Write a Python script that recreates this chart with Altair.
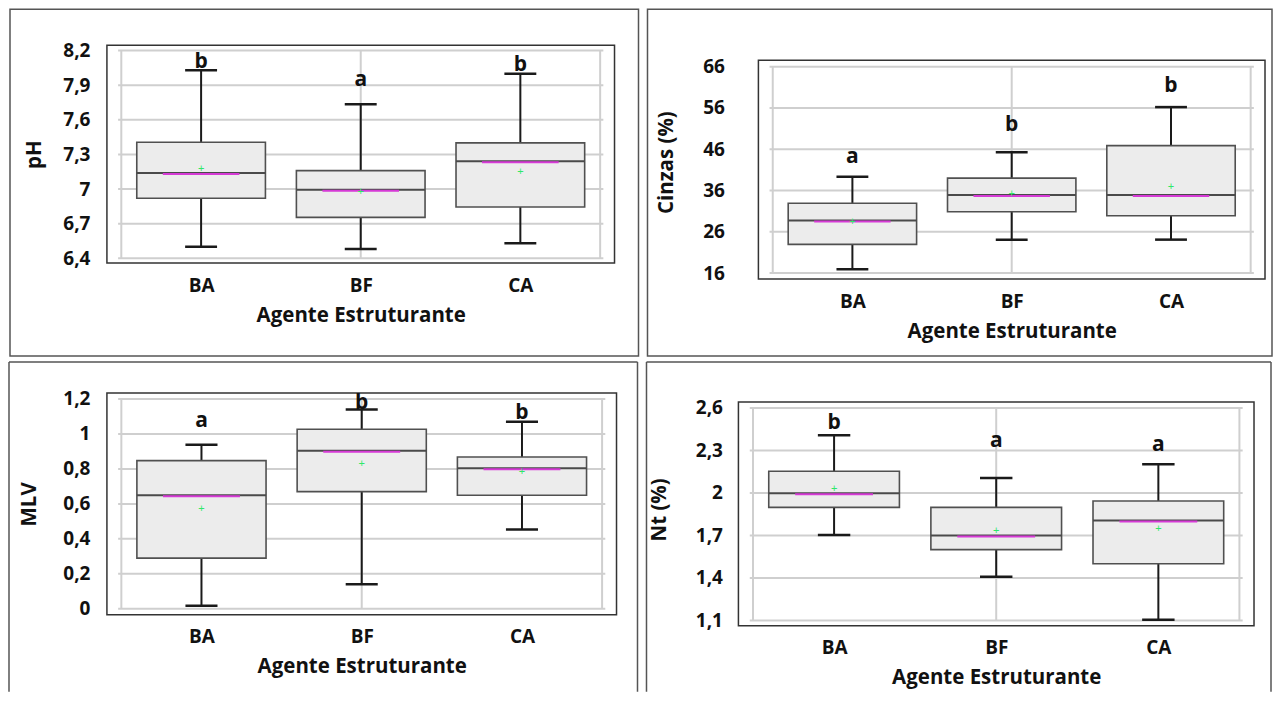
import altair as alt
import pandas as pd

groups = ["BA", "BF", "CA"]
group_pos = [1, 2, 3]
x_title = "Agente Estruturante"

# pH
ph_low = [6.50, 6.48, 6.53]
ph_q1 = [6.92, 6.755, 6.845]
ph_med = [7.14, 6.995, 7.24]
ph_q3 = [7.405, 7.16, 7.40]
ph_high = [8.03, 7.735, 8.00]
ph_mean = [7.17, 6.975, 7.15]
ph_letter = ["b", "a", "b"]
ph_letter_y = [8.05, 7.895, 8.024]
ph_ticks = [6.4, 6.7, 7.0, 7.3, 7.6, 7.9, 8.2]

# Cinzas (%)
cz_low = [16.9, 24.1, 24.1]
cz_q1 = [22.95, 30.86, 29.9]
cz_med = [28.76, 34.9, 34.9]
cz_q3 = [32.9, 39.0, 46.86]
cz_high = [39.3, 45.24, 56.2]
cz_mean = [28.36, 35.06, 36.8]
cz_letter = ["a", "b", "b"]
cz_letter_y = [42.6, 50.5, 59.8]
cz_ticks = [16, 26, 36, 46, 56, 66]

# MLV
mlv_low = [0.017, 0.14, 0.454]
mlv_q1 = [0.29, 0.67, 0.649]
mlv_med = [0.649, 0.904, 0.803]
mlv_q3 = [0.847, 1.027, 0.868]
mlv_high = [0.938, 1.139, 1.069]
mlv_mean = [0.568, 0.826, 0.784]
mlv_letter = ["a", "b", "b"]
mlv_letter_y = [1.04, 1.145, 1.086]
mlv_ticks = [0, 0.2, 0.4, 0.6, 0.8, 1.0, 1.2]

# Nt (%)
nt_low = [1.703, 1.409, 1.105]
nt_q1 = [1.898, 1.60, 1.50]
nt_med = [1.997, 1.70, 1.806]
nt_q3 = [2.153, 1.898, 1.943]
nt_high = [2.407, 2.105, 2.202]
nt_mean = [2.03, 1.731, 1.745]
nt_letter = ["b", "a", "a"]
nt_letter_y = [2.454, 2.326, 2.295]
nt_ticks = [1.1, 1.4, 1.7, 2.0, 2.3, 2.6]

FONT = "Open Sans"
TXT = "#111111"
GRID = "#cfcfcf"
XDOM = [0.41, 3.59]


def panel(ytitle, low, q1, med, q3, high, mean, letters, letter_y, ticks,
          ydom, w, h, ext, ylabpad, ytitlepad, border, open_bottom=False):
    """h = frame height in px; ext = empty px above the frame inside the view."""
    df = pd.DataFrame({"g": groups, "pos": group_pos, "low": low, "q1": q1,
                       "med": med, "q3": q3, "high": high, "mean": mean,
                       "letter": letters, "ly": letter_y})
    top = ydom[1] + ext * (ydom[1] - ydom[0]) / h
    xs = alt.Scale(domain=XDOM, nice=False, zero=False)
    ys = alt.Scale(domain=[ydom[0], top], nice=False, zero=False)
    lab_expr = str(groups) + "[datum.value - 1]"
    xa = alt.Axis(values=group_pos, labelExpr=lab_expr, title=x_title,
                  grid=False, ticks=False, tickSize=0, domain=False,
                  labelPadding=13, titlePadding=10)
    ya = alt.Axis(values=ticks,
                  labelExpr="replace(format(datum.value, '~g'), '.', ',')",
                  title=ytitle, grid=False, ticks=False, tickSize=0,
                  domain=False, labelPadding=ylabpad, titlePadding=ytitlepad)

    def X(f):
        return alt.X(f, scale=xs, axis=xa)

    def Y(f):
        return alt.Y(f, scale=ys, axis=ya)

    gdf = pd.DataFrame({"t": ticks})
    hgrid = alt.Chart(gdf).mark_rule(color=GRID, strokeWidth=2).encode(
        x=alt.XDatum(0.48, scale=xs, axis=xa),
        x2=alt.X2Datum(3.52),
        y=Y("t:Q"),
    )
    vdf = pd.DataFrame({"v": [0.5, 2.0, 3.5]})
    vgrid = alt.Chart(vdf).mark_rule(color=GRID, strokeWidth=2).encode(
        x=X("v:Q"),
        y=alt.YDatum(ticks[0], scale=ys, axis=ya),
        y2=alt.Y2Datum(ticks[-1]),
    )
    one = pd.DataFrame({"k": [0]})
    frame = alt.Chart(one).mark_rect(fillOpacity=0, stroke="#333333",
                                     strokeWidth=1.5).encode(
        x=alt.XDatum(XDOM[0], scale=xs, axis=xa), x2=alt.X2Datum(XDOM[1]),
        y=alt.YDatum(ydom[0], scale=ys, axis=ya), y2=alt.Y2Datum(ydom[1]),
    )
    base = alt.Chart(df).transform_calculate(
        bx1="datum.pos - 0.403", bx2="datum.pos + 0.403",
        cx1="datum.pos - 0.1", cx2="datum.pos + 0.1",
        mx1="datum.pos - 0.24", mx2="datum.pos + 0.24",
    )
    whisk = base.mark_rule(color="#1a1a1a", strokeWidth=2).encode(
        x=X("pos:Q"), y=Y("low:Q"), y2="high:Q")
    cap_lo = base.mark_rule(color="#1a1a1a", strokeWidth=2.5).encode(
        x=X("cx1:Q"), x2="cx2:Q", y=Y("low:Q"))
    cap_hi = base.mark_rule(color="#1a1a1a", strokeWidth=2.5).encode(
        x=X("cx1:Q"), x2="cx2:Q", y=Y("high:Q"))
    box = base.mark_rect(fill="#ececec", stroke="#505050", strokeWidth=1.6).encode(
        x=X("bx1:Q"), x2="bx2:Q", y=Y("q1:Q"), y2="q3:Q")
    median = base.mark_rule(color="#4a4a4a", strokeWidth=2).encode(
        x=X("bx1:Q"), x2="bx2:Q", y=Y("med:Q"))
    magenta = base.mark_rule(color="#d63ad6", strokeWidth=2).encode(
        x=X("mx1:Q"), x2="mx2:Q", y=Y("med:Q"), yOffset=alt.value(1))
    meanm = base.mark_text(text="+", color="#2ee86a", fontSize=11,
                           baseline="middle", align="center").encode(
        x=X("pos:Q"), y=Y("mean:Q"))
    lett = base.mark_text(font=FONT, fontWeight="bold", fontSize=21, color=TXT,
                          baseline="alphabetic", align="center").encode(
        x=X("pos:Q"), y=Y("ly:Q"), text="letter:N")

    bx1, bx2, by1, by2 = border
    if not open_bottom:
        outer = [alt.Chart(one).mark_rect(fillOpacity=0, stroke="#555555",
                                           strokeWidth=1.5).encode(
            x=alt.value(bx1), x2=alt.value(bx2), y=alt.value(by1), y2=alt.value(by2))]
    else:
        st = dict(color="#555555", strokeWidth=1.5)
        outer = [
            alt.Chart(one).mark_rule(**st).encode(x=alt.value(bx1), y=alt.value(by1), y2=alt.value(by2)),
            alt.Chart(one).mark_rule(**st).encode(x=alt.value(bx1), x2=alt.value(bx2), y=alt.value(by1)),
            alt.Chart(one).mark_rule(**st).encode(x=alt.value(bx2), y=alt.value(by1), y2=alt.value(by2)),
        ]
    return alt.layer(hgrid, vgrid, frame, whisk, cap_lo, cap_hi, box, median,
                     magenta, meanm, lett, *outer).properties(width=w, height=h + ext)


# row 1: view tops shared at the pH frame top; Cinzas frame sits 15 px lower
p1 = panel("pH", ph_low, ph_q1, ph_med, ph_q3, ph_high, ph_mean, ph_letter,
           ph_letter_y, ph_ticks, [6.359, 8.246], 508, 218, 0, 17, 18,
           (-97, 532, -36, 311))
p2 = panel("Cinzas (%)", cz_low, cz_q1, cz_med, cz_q3, cz_high, cz_mean, cz_letter,
           cz_letter_y, cz_ticks, [14.55, 67.55], 507, 219, 15, 34, 26,
           (-111, 514, -36, 311))
# row 2: view tops shared at the MLV frame top; Nt frame sits 9 px lower
p3 = panel("MLV", mlv_low, mlv_q1, mlv_med, mlv_q3, mlv_high, mlv_mean, mlv_letter,
           mlv_letter_y, mlv_ticks, [-0.034, 1.234], 510, 222, 0, 17, 23,
           (-98, 531, -31, 299), open_bottom=True)
p4 = panel("Nt (%)", nt_low, nt_q1, nt_med, nt_q3, nt_high, nt_mean, nt_letter,
           nt_letter_y, nt_ticks, [1.0625, 2.642], 516, 224, 9, 16, 26,
           (-92, 533, -31, 299), open_bottom=True)

row1 = alt.hconcat(p1, p2, spacing=7)
row2 = alt.hconcat(p3, p4, spacing=7)
chart = alt.vconcat(row1, row2, spacing=4).properties(
    padding=0, background="white"
).configure_view(
    stroke="transparent", strokeWidth=0
).configure_axis(
    labelFont=FONT, labelFontWeight="bold", labelFontSize=19, labelColor=TXT,
    titleFont=FONT, titleFontWeight="bold", titleFontSize=20.5, titleColor=TXT,
)

chart.save("out.html", embed_options={"renderer": "svg", "actions": False})
